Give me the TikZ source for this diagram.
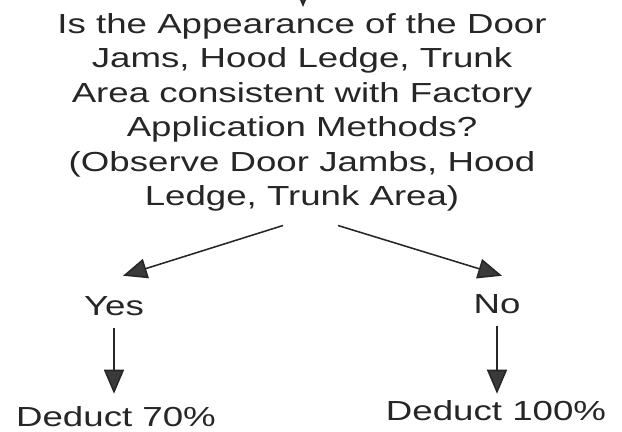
\documentclass[tikz,border=0pt]{standalone}
\usepackage{fontspec}
\setmainfont[FakeStretch=1.33]{Liberation Sans}
\usetikzlibrary{positioning, arrows.meta}

\definecolor{inkgray}{HTML}{262626}
\definecolor{tipgray}{HTML}{3A3A3A}

\begin{document}
\begin{tikzpicture}[x=0.025cm, y=-0.025cm,
    % Question text style
    question/.style={
        align=center,
        inner sep=0pt,
        text=inkgray,
        font=\fontsize{19.6}{24.5}\selectfont
    },
    % Yes / No label style
    answer/.style={
        inner xsep=0pt,
        inner ysep=0.3cm,
        text=inkgray,
        font=\fontsize{19.6}{24.5}\selectfont
    },
    % Deduction label style
    result/.style={
        inner xsep=0pt,
        inner ysep=0.3cm,
        text=inkgray,
        font=\fontsize{19.6}{24.5}\selectfont
    },
    % Arrow style - filled triangle tip
    arrow/.style={
        -{Triangle[length=0.6cm, width=0.5cm, fill=tipgray]},
        line width=1.1pt,
        draw=inkgray
    }
]

\useasboundingbox (0,0) rectangle (622,432);
\clip (0,0) rectangle (622,432);

% === Question ===
\node[question, anchor=north] (check) at (302,13)
    {Is the Appearance of the Door\\
     Jams, Hood Ledge, Trunk\\
     Area consistent with Factory\\
     Application Methods?\\
     (Observe Door Jambs, Hood\\
     Ledge, Trunk Area)};

% incoming arrow from above
\coordinate (entry) at (303,-40);
\draw[arrow] (entry) -- ([xshift=0.025cm, yshift=0.15cm]check.north);

% === Answers ===
\node[answer, anchor=base] (yes) at (114,315) {Yes};
\node[answer, anchor=base] (no) at (497,313) {No};

\draw[arrow] ([xshift=-0.475cm, yshift=-0.35cm]check.south) -- ([xshift=0.225cm, yshift=0.2cm]yes.north);
\draw[arrow] ([xshift=0.9cm, yshift=-0.35cm]check.south) -- ([xshift=0.125cm, yshift=0.15cm]no.north);

% === Deductions ===
\node[result, anchor=base] (deduct70) at (116,426) {Deduct 70\%};
\node[result, anchor=base, inner ysep=0.15cm] (deduct100) at (496,420) {Deduct 100\%};

\draw[arrow] (yes.south) -- (yes.south |- deduct70.north);
\draw[arrow] (no.south) -- (no.south |- deduct100.north);

\end{tikzpicture}
\end{document}
